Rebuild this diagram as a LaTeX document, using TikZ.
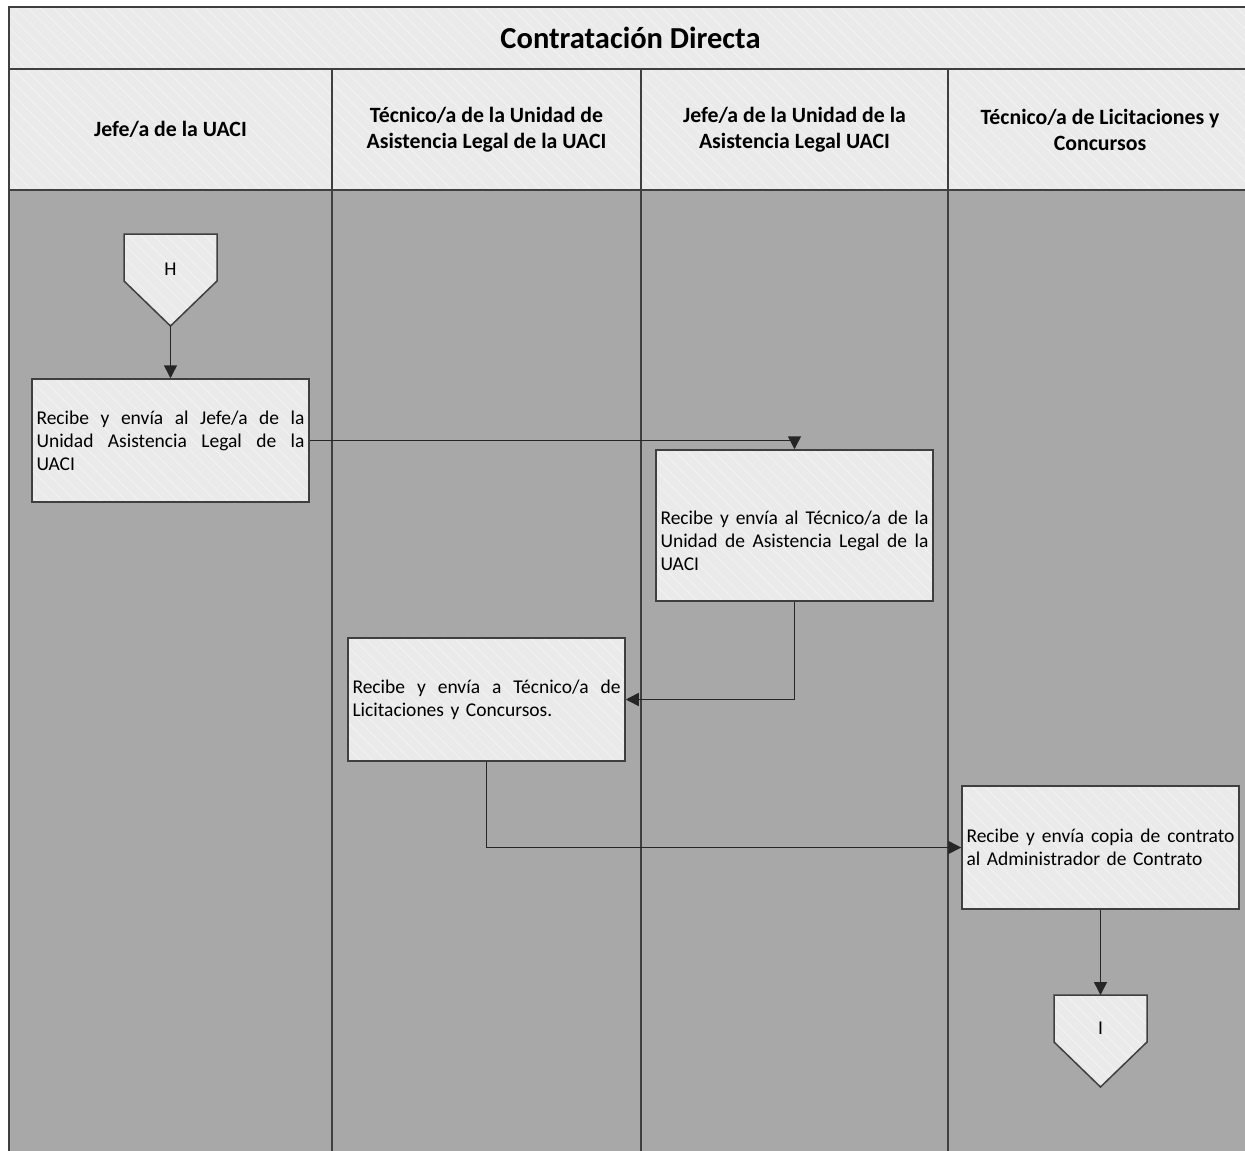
\documentclass[tikz,border=0pt]{standalone}
\usepackage{fontspec}
\setmainfont{Carlito}
\usetikzlibrary{arrows.meta,patterns.meta}
\definecolor{hdr}{HTML}{EAEAEA}
\definecolor{hatch}{HTML}{F2F2F2}
\definecolor{lane}{HTML}{A8A8A8}
\definecolor{edge}{HTML}{3F3F3F}
\definecolor{conn}{HTML}{262626}
\newcommand{\jl}[1]{\leavevmode\hbox to 268pt{#1}}
\newcommand{\hf}{\hspace{0pt plus 1fil}}
\begin{document}
\begin{tikzpicture}[x=1pt,y=-1pt,
  hatched/.style={preaction={fill=hdr}, pattern={Lines[angle=-45,distance=9pt,line width=1pt]}, pattern color=hatch},
  cellframe/.style={draw=edge, line width=1.8pt},
  hdrtext/.style={font=\fontsize{21.8}{26}\selectfont\bfseries, align=center, inner sep=0pt},
  box/.style={draw=edge, line width=1.5pt, hatched, minimum height=123pt, text width=268pt, inner xsep=4.5pt, inner ysep=0pt, align=left, font=\fontsize{19.5}{23}\selectfont},
  flow/.style={draw=conn, line width=1.5pt, -{Triangle[length=13pt,width=13pt]}},
  connshape/.style={draw=edge, line width=1.5pt, hatched},
  labeltext/.style={font=\fontsize{19.5}{23}\selectfont, inner sep=0pt}
]
\useasboundingbox (0,0) rectangle (1245,1151);
\fill[white] (0,0) rectangle (1245,1151);
% title band
\path[hatched, cellframe] (9,7) rectangle (1252,69);
\node[font=\fontsize{30.5}{34}\selectfont\bfseries, inner sep=0pt] (title) at (630.5,38) {Contratación Directa};
% lanes
\foreach \a/\b in {9/332,332/641,641/948,948/1252} {
  \path[hatched, cellframe] (\a,69) rectangle (\b,190);
  \path[fill=lane, cellframe] (\a,190) rectangle (\b,1170);
}
\node[hdrtext] (h1) at (170.5,129.5) {Jefe/a de la UACI};
\node[hdrtext] (h2) at (486.5,129.5) {Técnico/a de la Unidad de\\Asistencia Legal de la UACI};
\node[hdrtext] (h3) at (794.5,129.5) {Jefe/a de la Unidad de la\\Asistencia Legal UACI};
\node[hdrtext] (h4) at (1100,129.5) {Técnico/a de Licitaciones y\\Concursos};
% off-page connectors
\path[connshape] (124,234) -- (217,234) -- (217,281) -- (170.5,326) -- (124,281) -- cycle;
\coordinate (Htip) at (170.5,326);
\node[labeltext] (H) at (170.5,269) {H};
\path[connshape] (1054,995) -- (1147,995) -- (1147,1042) -- (1100.5,1087) -- (1054,1042) -- cycle;
\coordinate (Itop) at (1100.5,995);
\node[labeltext] (I) at (1100.5,1028) {I};
% process boxes
\node[box] (b1) at (170.5,440.5) {\jl{Recibe\hf{} y\hf{} envía\hf{} al\hf{} Jefe/a\hf{} de\hf{} la}\\\jl{Unidad\hf{} Asistencia\hf{} Legal\hf{} de\hf{} la}\\UACI};
\node[box, minimum height=151pt] (b2) at (794.5,525.5) {\mbox{}\\[22pt]\jl{Recibe\hf{} y\hf{} envía\hf{} al\hf{} Técnico/a\hf{} de\hf{} la}\\\jl{Unidad\hf{} de\hf{} Asistencia\hf{} Legal\hf{} de\hf{} la}\\UACI};
\node[box] (b3) at (486.5,699.5) {\jl{Recibe\hf{} y\hf{} envía\hf{} a\hf{} Técnico/a\hf{} de}\\Licitaciones y Concursos.};
\node[box] (b4) at (1100.5,847.5) {\jl{Recibe\hf{} y\hf{} envía\hf{} copia\hf{} de\hf{} contrato}\\al Administrador de Contrato};
% connectors
\draw[flow] (Htip) -- (b1.north);
\draw[flow] (b1.east) -| (b2.north);
\draw[flow] (b2.south) |- (b3.east);
\draw[flow] (b3.south) |- (b4.west);
\draw[flow] (b4.south) -- (Itop);
\end{tikzpicture}
\end{document}
